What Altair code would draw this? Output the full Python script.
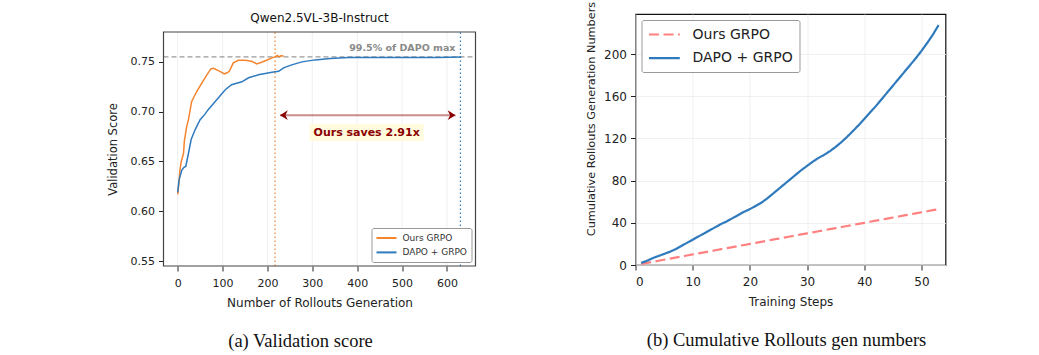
import altair as alt
import pandas as pd

# ---------------- data ----------------
series_names = ["Ours GRPO", "DAPO + GRPO"]

# (a) validation score vs number of rollouts generation
ours_x = [0, 3, 5, 8, 13, 15, 20, 24, 31, 42, 54, 65, 74, 80, 87, 94, 104, 110, 115,
          124, 135, 150, 165, 176, 187, 198, 210, 217, 222, 226, 230, 236]
ours_y = [0.617, 0.630, 0.641, 0.650, 0.658, 0.671, 0.685, 0.692, 0.710, 0.720, 0.729,
          0.737, 0.743, 0.7435, 0.742, 0.7405, 0.738, 0.739, 0.7405, 0.749, 0.7516,
          0.7516, 0.7506, 0.748, 0.7496, 0.7516, 0.754, 0.755, 0.7564, 0.755, 0.7562, 0.756]
dapo_x = [0, 3, 9, 14, 18, 24, 30, 39, 50, 60, 68, 87, 106, 120, 143, 158, 180, 210,
          225, 236, 254, 277, 306, 340, 381, 450, 520, 580, 632]
dapo_y = [0.619, 0.631, 0.641, 0.644, 0.645, 0.658, 0.672, 0.682, 0.692, 0.697, 0.702,
          0.712, 0.722, 0.727, 0.730, 0.734, 0.737, 0.7395, 0.7405, 0.744, 0.747, 0.750,
          0.752, 0.7535, 0.7545, 0.7545, 0.7543, 0.7545, 0.755]
threshold = 0.755
threshold_label = "99.5% of DAPO max"
threshold_label_y = 0.7613
ours_hit = 217
dapo_hit = 630
arrow_from = 228
arrow_to = 619
arrow_y = 0.6965
saves_label = "Ours saves 2.91x"
saves_x = 421
saves_y = 0.679
left_title = "Qwen2.5VL-3B-Instruct"
left_x_lim = [-31.6, 663.6]
left_y_lim = [0.545, 0.78]
left_x_ticks = [0, 100, 200, 300, 400, 500, 600]
left_y_ticks = [0.55, 0.60, 0.65, 0.70, 0.75]

# (b) cumulative rollouts generation numbers vs training steps
steps = [1, 2, 3, 4, 5, 6, 7, 8, 9, 10, 11, 12, 13, 14, 15, 16, 17, 18, 19, 20,
         21, 22, 23, 24, 25, 26, 27, 28, 29, 30, 31, 32, 33, 34, 35, 36, 37, 38, 39, 40,
         41, 42, 43, 44, 45, 46, 47, 48, 49, 50, 51, 52, 53]
ours_cum = [1, 2, 3, 4, 5, 6, 7, 8, 9, 10, 11, 12, 13, 14, 15, 16, 17, 18, 19, 20,
            21, 22, 23, 24, 25, 26, 27, 28, 29, 30, 31, 32, 33, 34, 35, 36, 37, 38, 39, 40,
            41, 42, 43, 44, 45, 46, 47, 48, 49, 50, 51, 52, 53]
dapo_cum = [2, 4, 6.5, 8.5, 10.5, 12.5, 15, 18, 21, 24,
            27, 30, 33, 36, 39, 41.5, 44.5, 47.5, 50.5, 53,
            56, 59, 63, 67.5, 72, 76.5, 81, 85.5, 90, 94,
            98, 101.5, 104.5, 108, 112, 116.5, 121.5, 127, 132.5, 138.5,
            144.5, 150.5, 157, 163.5, 170, 176.5, 183, 189.5, 196, 203,
            210.5, 218.5, 227.5]
right_x_lim = [0, 54.2]
right_y_lim = [0, 238]
right_x_ticks = [0, 10, 20, 30, 40, 50]
right_y_ticks = [0, 40, 80, 120, 160, 200]

# ---------------- styling ----------------
FONT = "DejaVu Sans"
SERIF = "Liberation Serif"
ORANGE = "#f4842e"
BLUE = "#2f7abd"
PINK = "#ff8080"
DARKRED = "#8b0000"
GRID = "#ececec"

axis_common = dict(labelFont=FONT, titleFont=FONT, titleFontWeight="normal",
                   tickColor="#222", tickSize=5, domain=False, gridColor=GRID,
                   gridWidth=0.8, labelColor="#222", titleColor="#222")

# ---------------- left panel ----------------
LH = 252   # group height; the plot frame starts 18 px lower
left_df = pd.DataFrame({
    "x": ours_x + dapo_x,
    "y": ours_y + dapo_y,
    "series": [series_names[0]] * len(ours_x) + [series_names[1]] * len(dapo_x),
})
xs = alt.Scale(domain=left_x_lim, nice=False, zero=False)
ys = alt.Scale(domain=left_y_lim, nice=False, zero=False, range=[LH, 18])

x_title = "Number of Rollouts Generation"
grid_x = alt.Chart(pd.DataFrame({"t": left_x_ticks})).mark_rule(color=GRID, strokeWidth=0.8).encode(
    x=alt.X("t:Q", scale=xs, title=x_title),
    y=alt.datum(left_y_lim[0]), y2=alt.datum(left_y_lim[1]),
)

left_lines = alt.Chart(left_df).mark_line(strokeWidth=1.5).encode(
    x=alt.X("x:Q", scale=xs, axis=alt.Axis(values=left_x_ticks, title=x_title, grid=False,
                                           labelFontSize=11, titleFontSize=12, labelPadding=6,
                                           titlePadding=9, **axis_common)),
    y=alt.Y("y:Q", scale=ys, axis=alt.Axis(values=left_y_ticks, format=".2f", title="Validation Score",
                                           labelFontSize=11, titleFontSize=11.5, labelPadding=4,
                                           titlePadding=12, **axis_common)),
    color=alt.Color("series:N", scale=alt.Scale(domain=series_names, range=[ORANGE, BLUE]),
                    legend=alt.Legend(title=None, orient="bottom-right", offset=4, fillColor="white",
                                      strokeColor="#999", padding=4, cornerRadius=2,
                                      labelFont=FONT, labelFontSize=9, labelColor="#333",
                                      symbolType="M-1,0L3,0", symbolSize=100, symbolStrokeWidth=2,
                                      rowPadding=3.4, labelOffset=15)),
)

thr_rule = alt.Chart().mark_rule(color="#9a9a9a", strokeDash=[5, 3], strokeWidth=1.2).encode(
    y=alt.datum(threshold), x=alt.datum(left_x_lim[0]), x2=alt.datum(left_x_lim[1]))
ours_rule = alt.Chart().mark_rule(color=ORANGE, strokeDash=[1.5, 2.5], strokeWidth=1.2).encode(
    x=alt.datum(ours_hit), y=alt.datum(left_y_lim[0]), y2=alt.datum(left_y_lim[1]))
dapo_rule = alt.Chart().mark_rule(color=BLUE, strokeDash=[1.5, 2.5], strokeWidth=1.2).encode(
    x=alt.datum(dapo_hit), y=alt.datum(left_y_lim[0]), y2=alt.datum(left_y_lim[1]))
thr_text = alt.Chart().mark_text(text=threshold_label, align="right", baseline="alphabetic",
                                 font=FONT, fontSize=9.5, fontWeight="bold", color="#8a8a8a").encode(
    x=alt.datum(arrow_to), y=alt.datum(threshold_label_y))
arrow_line = alt.Chart().mark_rule(color=DARKRED, opacity=0.45, strokeWidth=2).encode(
    x=alt.datum(arrow_from), x2=alt.datum(arrow_to), y=alt.datum(arrow_y))
head_l = alt.Chart().mark_point(shape="M0,0L1.3,-0.8L0.9,0L1.3,0.8Z", filled=True, color=DARKRED,
                                 size=144, opacity=1).encode(x=alt.datum(arrow_from), y=alt.datum(arrow_y))
head_r = alt.Chart().mark_point(shape="M0,0L-1.3,-0.8L-0.9,0L-1.3,0.8Z", filled=True, color=DARKRED,
                                 size=144, opacity=1).encode(x=alt.datum(arrow_to), y=alt.datum(arrow_y))
saves_box = alt.Chart().mark_point(shape="M-1,-0.15L1,-0.15L1,0.15L-1,0.15Z", filled=True,
                                    color="#fffbdc", size=12996, opacity=1).encode(
    x=alt.datum(saves_x), y=alt.datum(saves_y))
saves_text = alt.Chart().mark_text(text=saves_label, font=FONT, fontSize=11, fontWeight="bold",
                                   color=DARKRED, align="center", baseline="middle").encode(
    x=alt.datum(saves_x), y=alt.datum(saves_y))
frame = alt.Chart().mark_rect(filled=False, stroke="#444", strokeWidth=1.2).encode(
    x=alt.datum(left_x_lim[0]), x2=alt.datum(left_x_lim[1]),
    y=alt.datum(left_y_lim[0]), y2=alt.datum(left_y_lim[1]))
title_text = alt.Chart().mark_text(text=left_title, font=FONT, fontSize=12, color="#111",
                                   align="center", baseline="alphabetic", dy=-10).encode(
    x=alt.datum((left_x_lim[0] + left_x_lim[1]) / 2), y=alt.datum(left_y_lim[1]))

left_chart = alt.layer(
    grid_x, thr_rule, ours_rule, dapo_rule, left_lines, thr_text, arrow_line, head_l, head_r,
    saves_box, saves_text, frame, title_text
).properties(
    width=312, height=LH,
    title=alt.TitleParams("(a) Validation score", orient="bottom", anchor="middle", font=SERIF,
                          fontSize=18.5, fontWeight="normal", color="#111", offset=24, dx=-19),
    view=alt.ViewBackground(strokeOpacity=0),
)

# ---------------- right panel ----------------
right_df = pd.DataFrame({
    "step": steps + steps,
    "cum": ours_cum + dapo_cum,
    "series": [series_names[0]] * len(steps) + [series_names[1]] * len(steps),
})
right_legend = alt.Legend(title=None, orient="top-left", offset=6, fillColor="white", strokeColor="#999",
                          padding=6, cornerRadius=2, labelFont=FONT, labelFontSize=14,
                          labelColor="#222", symbolType="M-1,0L3.4,0", symbolSize=196,
                          symbolStrokeWidth=2.2, rowPadding=7.6, labelOffset=28)
right_chart = alt.Chart(right_df).mark_line(strokeWidth=2.2).encode(
    x=alt.X("step:Q", scale=alt.Scale(domain=right_x_lim, nice=False, zero=False),
            axis=alt.Axis(values=right_x_ticks, title="Training Steps", labelFontSize=12,
                          titleFontSize=12, labelPadding=6, titlePadding=9, **axis_common)),
    y=alt.Y("cum:Q", scale=alt.Scale(domain=right_y_lim, nice=False),
            axis=alt.Axis(values=right_y_ticks, title="Cumulative Rollouts Generation Numbers",
                          labelFontSize=12, titleFontSize=11.3, labelPadding=4, titlePadding=7,
                          titleY=104.5, **axis_common)),
    color=alt.Color("series:N", scale=alt.Scale(domain=series_names, range=[PINK, BLUE]),
                    legend=right_legend),
    strokeDash=alt.StrokeDash("series:N", scale=alt.Scale(domain=series_names, range=[[10, 4.5], [1, 0]]),
                              legend=right_legend),
).properties(
    width=310, height=251,
    title=alt.TitleParams("(b) Cumulative Rollouts gen numbers", orient="bottom", anchor="middle",
                          font=SERIF, fontSize=18.5, fontWeight="normal", color="#111", offset=24, dx=-4),
    view=alt.ViewBackground(stroke="#111", strokeWidth=1.2),
)

chart = alt.hconcat(left_chart, right_chart, spacing=160, bounds="flush").resolve_scale(
    color="independent", strokeDash="independent"
).resolve_legend(
    color="independent", strokeDash="independent"
).properties(
    padding={"left": 106.5, "top": 0, "right": 5, "bottom": 5},
    background="white",
).configure(font=FONT)

chart.save("out.html", embed_options={"renderer": "svg", "actions": False})
